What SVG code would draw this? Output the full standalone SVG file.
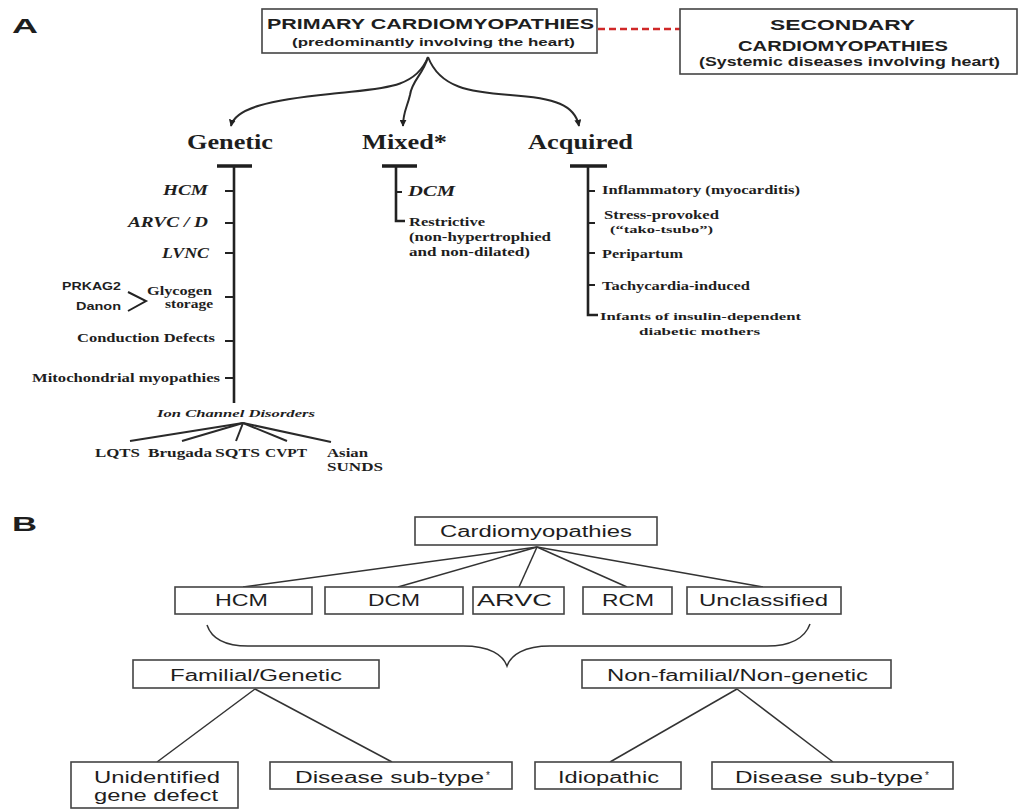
<svg xmlns="http://www.w3.org/2000/svg" width="1019" height="809" viewBox="0 0 1019 809">
<style>
.bg{fill:#fff}
.box{fill:#fff;stroke:#444;stroke-width:1.6}
.ln{fill:none;stroke:#2a2a2a;stroke-width:2}
.thin{fill:none;stroke:#333;stroke-width:1.5}
.bar{fill:none;stroke:#1e1e1e;stroke-width:3.5}
.vbar{fill:none;stroke:#222;stroke-width:2.6}
.tick{fill:none;stroke:#222;stroke-width:2}
.sb{font-family:"Liberation Sans",Arial,sans-serif;font-weight:bold;fill:#1e1e1e}
.s{font-family:"Liberation Sans",Arial,sans-serif;fill:#1e1e1e}
.fb{font-family:"Liberation Serif","Times New Roman",serif;font-weight:bold;fill:#1e1e1e}
.fbi{font-family:"Liberation Serif","Times New Roman",serif;font-weight:bold;font-style:italic;fill:#1e1e1e}
</style>
<defs>
<marker id="ah" viewBox="0 0 10 10" refX="9" refY="5" markerWidth="7" markerHeight="7" orient="auto" markerUnits="userSpaceOnUse">
<path d="M0,0 L10,5 L0,10 z" fill="#222"/>
</marker>
</defs>
<rect class="bg" x="0" y="0" width="1019" height="809"/>

<!-- Panel labels -->
<text class="sb" x="12" y="33" font-size="21" textLength="26" lengthAdjust="spacingAndGlyphs">A</text>
<text class="sb" x="12" y="531" font-size="21" textLength="25" lengthAdjust="spacingAndGlyphs">B</text>

<!-- Connectors -->
<g id="connectors">
  <line x1="598" y1="29" x2="680" y2="29" stroke="#d02828" stroke-width="2.6" stroke-dasharray="7,4"/>
  <path class="ln" d="M428,57 C415,90 380,88 330,94 C270,100 235,108 231,126" marker-end="url(#ah)"/>
  <path class="ln" d="M428,57 C423,75 412,80 410,95 C407,108 403,112 403,126" marker-end="url(#ah)"/>
  <path class="ln" d="M428,57 C440,88 470,92 510,95 C555,98 575,105 579,126" marker-end="url(#ah)"/>
  <!-- Genetic tree -->
  <line class="bar" x1="217" y1="166" x2="252" y2="166"/>
  <line class="vbar" x1="234" y1="166" x2="234" y2="403"/>
  <line class="tick" x1="225" y1="191" x2="234" y2="191"/>
  <line class="tick" x1="225" y1="223" x2="234" y2="223"/>
  <line class="tick" x1="225" y1="253" x2="234" y2="253"/>
  <line class="tick" x1="225" y1="297" x2="234" y2="297"/>
  <line class="tick" x1="225" y1="341" x2="234" y2="341"/>
  <line class="tick" x1="225" y1="378" x2="234" y2="378"/>
  <path class="tick" d="M128,292 L146,301 L128,311"/>
  <line class="ln" x1="243" y1="423" x2="130" y2="441"/>
  <line class="ln" x1="243" y1="423" x2="182" y2="441"/>
  <line class="ln" x1="243" y1="423" x2="236" y2="441"/>
  <line class="ln" x1="243" y1="423" x2="287" y2="441"/>
  <line class="ln" x1="243" y1="423" x2="331" y2="442"/>
  <!-- Mixed tree -->
  <line class="bar" x1="382" y1="166" x2="417" y2="166"/>
  <path class="vbar" d="M396,166 L396,221 L405,221"/>
  <line class="tick" x1="396" y1="192" x2="402" y2="192"/>
  <!-- Acquired tree -->
  <line class="bar" x1="570" y1="166" x2="607" y2="166"/>
  <path class="vbar" d="M588,166 L588,315 L598,315"/>
  <line class="tick" x1="588" y1="191" x2="595" y2="191"/>
  <line class="tick" x1="588" y1="223" x2="595" y2="223"/>
  <line class="tick" x1="588" y1="253" x2="595" y2="253"/>
  <line class="tick" x1="588" y1="285" x2="595" y2="285"/>
  <!-- Panel B -->
  <line class="thin" x1="537" y1="547" x2="243" y2="587"/>
  <line class="thin" x1="537" y1="547" x2="398" y2="587"/>
  <line class="thin" x1="537" y1="547" x2="519" y2="587"/>
  <line class="thin" x1="537" y1="547" x2="627" y2="587"/>
  <line class="thin" x1="537" y1="547" x2="763" y2="587"/>
  <path class="thin" d="M207,625 C212,640 228,646 248,646 L463,646 C490,646 503,655 507,666 C511,655 524,646 550,646 L767,646 C790,646 805,638 810,624"/>
  <line class="thin" x1="255" y1="689" x2="157" y2="762"/>
  <line class="thin" x1="255" y1="689" x2="392" y2="762"/>
  <line class="thin" x1="737" y1="689" x2="610" y2="762"/>
  <line class="thin" x1="737" y1="689" x2="833" y2="762"/>
</g>

<!-- Panel A nodes -->
<g id="primary">
  <rect class="box" x="262" y="9" width="335" height="44"/>
  <text class="sb" x="267" y="29" font-size="15" textLength="327" lengthAdjust="spacingAndGlyphs">PRIMARY CARDIOMYOPATHIES</text>
  <text class="sb" x="292" y="45.5" font-size="11.5" textLength="283" lengthAdjust="spacingAndGlyphs">(predominantly involving the heart)</text>
</g>
<g id="secondary">
  <rect class="box" x="680" y="9" width="337" height="65"/>
  <text class="sb" x="770" y="30" font-size="15" textLength="145" lengthAdjust="spacingAndGlyphs">SECONDARY</text>
  <text class="sb" x="738" y="50.5" font-size="15" textLength="210" lengthAdjust="spacingAndGlyphs">CARDIOMYOPATHIES</text>
  <text class="sb" x="699" y="66" font-size="12.5" textLength="301" lengthAdjust="spacingAndGlyphs">(Systemic diseases involving heart)</text>
</g>
<g id="genetic">
  <text class="fb" x="187" y="149" font-size="20" textLength="86" lengthAdjust="spacingAndGlyphs">Genetic</text>
  <text class="fbi" x="163" y="195" font-size="14" textLength="45" lengthAdjust="spacingAndGlyphs">HCM</text>
  <text class="fbi" x="128" y="227" font-size="14" textLength="80" lengthAdjust="spacingAndGlyphs">ARVC / D</text>
  <text class="fbi" x="162" y="258" font-size="14" textLength="47" lengthAdjust="spacingAndGlyphs">LVNC</text>
  <text class="sb" x="62" y="290" font-size="10" textLength="59" lengthAdjust="spacingAndGlyphs">PRKAG2</text>
  <text class="sb" x="76" y="310" font-size="10" textLength="45" lengthAdjust="spacingAndGlyphs">Danon</text>
  <text class="fb" x="147" y="295" font-size="13" textLength="65" lengthAdjust="spacingAndGlyphs">Glycogen</text>
  <text class="fb" x="165" y="308" font-size="13" textLength="48" lengthAdjust="spacingAndGlyphs">storage</text>
  <text class="fb" x="77" y="342" font-size="13" textLength="138" lengthAdjust="spacingAndGlyphs">Conduction Defects</text>
  <text class="fb" x="32" y="382" font-size="13" textLength="188" lengthAdjust="spacingAndGlyphs">Mitochondrial myopathies</text>
  <text class="fbi" x="157" y="417" font-size="11" textLength="158" lengthAdjust="spacingAndGlyphs">Ion Channel Disorders</text>
  <text class="fb" x="95" y="457" font-size="13" textLength="45" lengthAdjust="spacingAndGlyphs">LQTS</text>
  <text class="fb" x="148" y="457" font-size="13" textLength="64" lengthAdjust="spacingAndGlyphs">Brugada</text>
  <text class="fb" x="215" y="457" font-size="13" textLength="45" lengthAdjust="spacingAndGlyphs">SQTS</text>
  <text class="fb" x="265" y="457" font-size="13" textLength="42" lengthAdjust="spacingAndGlyphs">CVPT</text>
  <text class="fb" x="327" y="457" font-size="13" textLength="41" lengthAdjust="spacingAndGlyphs">Asian</text>
  <text class="fb" x="327" y="471" font-size="13" textLength="56" lengthAdjust="spacingAndGlyphs">SUNDS</text>
</g>
<g id="mixed">
  <text class="fb" x="362" y="149" font-size="20" textLength="85" lengthAdjust="spacingAndGlyphs">Mixed*</text>
  <text class="fbi" x="408" y="196" font-size="14" textLength="47" lengthAdjust="spacingAndGlyphs">DCM</text>
  <text class="fb" x="409" y="226" font-size="12" textLength="76" lengthAdjust="spacingAndGlyphs">Restrictive</text>
  <text class="fb" x="409" y="241" font-size="12" textLength="142" lengthAdjust="spacingAndGlyphs">(non-hypertrophied</text>
  <text class="fb" x="409" y="256" font-size="12" textLength="121" lengthAdjust="spacingAndGlyphs">and non-dilated)</text>
</g>
<g id="acquired">
  <text class="fb" x="528" y="149" font-size="20" textLength="105" lengthAdjust="spacingAndGlyphs">Acquired</text>
  <text class="fb" x="602" y="194" font-size="12" textLength="198" lengthAdjust="spacingAndGlyphs">Inflammatory (myocarditis)</text>
  <text class="fb" x="604" y="219" font-size="12" textLength="115" lengthAdjust="spacingAndGlyphs">Stress-provoked</text>
  <text class="fb" x="610" y="233" font-size="11" textLength="103" lengthAdjust="spacingAndGlyphs">(“tako-tsubo”)</text>
  <text class="fb" x="602" y="258" font-size="12" textLength="81" lengthAdjust="spacingAndGlyphs">Peripartum</text>
  <text class="fb" x="602" y="290" font-size="12" textLength="148" lengthAdjust="spacingAndGlyphs">Tachycardia-induced</text>
  <text class="fb" x="600" y="320" font-size="11" textLength="201" lengthAdjust="spacingAndGlyphs">Infants of insulin-dependent</text>
  <text class="fb" x="639" y="335" font-size="11" textLength="121" lengthAdjust="spacingAndGlyphs">diabetic mothers</text>
</g>

<!-- Panel B nodes -->
<g id="cardiomyopathies">
  <rect class="box" x="415" y="517" width="242" height="28"/>
  <text class="s" x="440" y="537" font-size="16" textLength="192" lengthAdjust="spacingAndGlyphs">Cardiomyopathies</text>
</g>
<g id="hcm">
  <rect class="box" x="175" y="587" width="137" height="27"/>
  <text class="s" x="215" y="606" font-size="16" textLength="53" lengthAdjust="spacingAndGlyphs">HCM</text>
</g>
<g id="dcm">
  <rect class="box" x="325" y="587" width="138" height="27"/>
  <text class="s" x="368" y="606" font-size="16" textLength="52" lengthAdjust="spacingAndGlyphs">DCM</text>
</g>
<g id="arvc">
  <rect class="box" x="473" y="587" width="91" height="27"/>
  <text class="s" x="477" y="606" font-size="16" textLength="75" lengthAdjust="spacingAndGlyphs">ARVC</text>
</g>
<g id="rcm">
  <rect class="box" x="583" y="587" width="89" height="27"/>
  <text class="s" x="602" y="606" font-size="16" textLength="52" lengthAdjust="spacingAndGlyphs">RCM</text>
</g>
<g id="unclassified">
  <rect class="box" x="687" y="587" width="154" height="27"/>
  <text class="s" x="699" y="606" font-size="16" textLength="129" lengthAdjust="spacingAndGlyphs">Unclassified</text>
</g>
<g id="familial">
  <rect class="box" x="133" y="660" width="246" height="28"/>
  <text class="s" x="170" y="681" font-size="16" textLength="172" lengthAdjust="spacingAndGlyphs">Familial/Genetic</text>
</g>
<g id="nonfamilial">
  <rect class="box" x="582" y="660" width="309" height="28"/>
  <text class="s" x="607" y="681" font-size="16" textLength="261" lengthAdjust="spacingAndGlyphs">Non-familial/Non-genetic</text>
</g>
<g id="unidentified">
  <rect class="box" x="71" y="762" width="167" height="46"/>
  <text class="s" x="94" y="783" font-size="16" textLength="126" lengthAdjust="spacingAndGlyphs">Unidentified</text>
  <text class="s" x="94" y="801" font-size="16" textLength="124" lengthAdjust="spacingAndGlyphs">gene defect</text>
</g>
<g id="subtype-genetic">
  <rect class="box" x="270" y="762" width="242" height="27"/>
  <text class="s" x="295" y="783" font-size="16" textLength="189" lengthAdjust="spacingAndGlyphs">Disease sub-type</text>
  <text class="s" x="486" y="779" font-size="10">*</text>
</g>
<g id="idiopathic">
  <rect class="box" x="535" y="762" width="146" height="27"/>
  <text class="s" x="558" y="783" font-size="16" textLength="101" lengthAdjust="spacingAndGlyphs">Idiopathic</text>
</g>
<g id="subtype-nongenetic">
  <rect class="box" x="712" y="762" width="241" height="27"/>
  <text class="s" x="735" y="783" font-size="16" textLength="188" lengthAdjust="spacingAndGlyphs">Disease sub-type</text>
  <text class="s" x="925" y="779" font-size="10">*</text>
</g>
</svg>
